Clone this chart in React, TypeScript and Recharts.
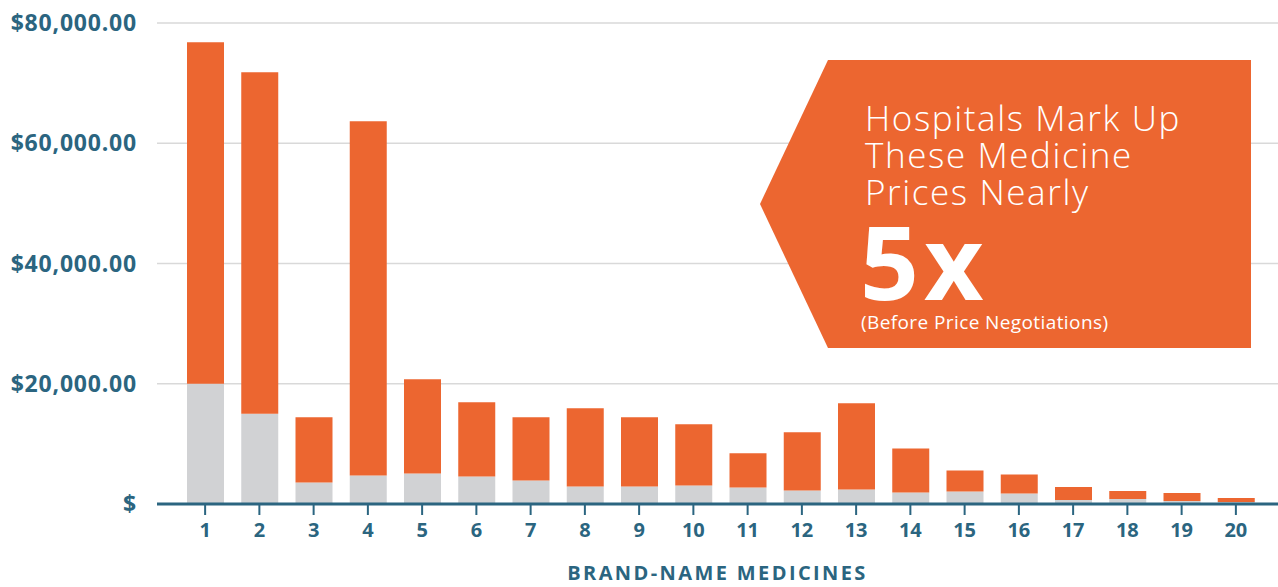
import { BarChart, Bar, XAxis, YAxis, CartesianGrid } from "recharts"

const medicines = ["1", "2", "3", "4", "5", "6", "7", "8", "9", "10", "11", "12", "13", "14", "15", "16", "17", "18", "19", "20"]
// grey part of each bar
const basePrices = [20000, 15000, 3580, 4750, 5080, 4580, 3920, 2920, 2920, 3080, 2750, 2250, 2420, 1920, 2080, 1750, 670, 830, 500, 330]
// orange part stacked on top
const markups = [56800, 56800, 10840, 58900, 15670, 12340, 10500, 13000, 11500, 10170, 5670, 9670, 14330, 7330, 3500, 3170, 2170, 1330, 1330, 670]
const yTicks = [0, 20000, 40000, 60000, 80000]

const TEAL = "#2b6580"
const ORANGE = "#ec6630"
const GREY = "#d1d2d4"
const FONT = "'Open Sans', sans-serif"

const chartData = medicines.map((m, i) => ({
    name: m,
    base: basePrices[i],
    markup: markups[i],
}))

const formatDollar = (v: number) =>
    v === 0 ? "$" : "$" + v.toLocaleString("en-US", { minimumFractionDigits: 2, maximumFractionDigits: 2 })

function Callout() {
    return (
        <svg width={1278} height={587} style={{ position: "absolute", left: 0, top: 0, pointerEvents: "none" }}>
            <polygon points="760,204 828,60 1251,60 1251,348 828,348" fill={ORANGE} />
            <g fill="#fff" fontFamily={FONT} fontWeight={300}>
                <text x={865} y={131} fontSize={35} letterSpacing={1.6}>Hospitals Mark Up</text>
                <text x={865} y={168} fontSize={35} letterSpacing={1.6}>These Medicine</text>
                <text x={865} y={205} fontSize={35} letterSpacing={1.6}>Prices Nearly</text>
                <text x={860} y={300} fontSize={103} fontWeight={700} letterSpacing={5}>5x</text>
                <text x={861} y={329} fontSize={19} fontWeight={400} letterSpacing={0.4}>(Before Price Negotiations)</text>
            </g>
        </svg>
    )
}

export default function App() {
    return (
        <div style={{ position: "absolute", left: 0, top: 0, width: 1278, height: 587, background: "#fff" }}>
            <BarChart
                width={1278}
                height={587}
                data={chartData}
                margin={{ top: 23, right: 0, left: 0, bottom: 0 }}
                barSize={37}
            >
                <CartesianGrid vertical={false} stroke="#d9d9d9" strokeWidth={1.5} />
                <XAxis
                    dataKey="name"
                    height={83}
                    padding={{ left: 21, right: 15 }}
                    axisLine={{ stroke: TEAL, strokeWidth: 3 }}
                    tickLine={{ stroke: TEAL, strokeWidth: 2 }}
                    tickSize={11}
                    tickMargin={8}
                    tick={{ fill: TEAL, fontSize: 20, fontWeight: 700, fontFamily: FONT }}
                    label={{
                        value: "BRAND-NAME MEDICINES",
                        position: "insideBottom",
                        offset: 7,
                        fill: TEAL,
                        fontSize: 20,
                        fontWeight: 700,
                        letterSpacing: 2.4,
                        fontFamily: FONT,
                    }}
                />
                <YAxis
                    width={157}
                    domain={[0, 80000]}
                    ticks={yTicks}
                    tickFormatter={formatDollar}
                    axisLine={false}
                    tickLine={false}
                    tickSize={0}
                    tickMargin={20}
                    tick={{ fill: TEAL, fontSize: 23, fontWeight: 700, fontFamily: FONT, letterSpacing: 0.8 }}
                />
                <Bar dataKey="base" stackId="a" fill={GREY} isAnimationActive={false} />
                <Bar dataKey="markup" stackId="a" fill={ORANGE} isAnimationActive={false} />
            </BarChart>
            <Callout />
        </div>
    )
}
